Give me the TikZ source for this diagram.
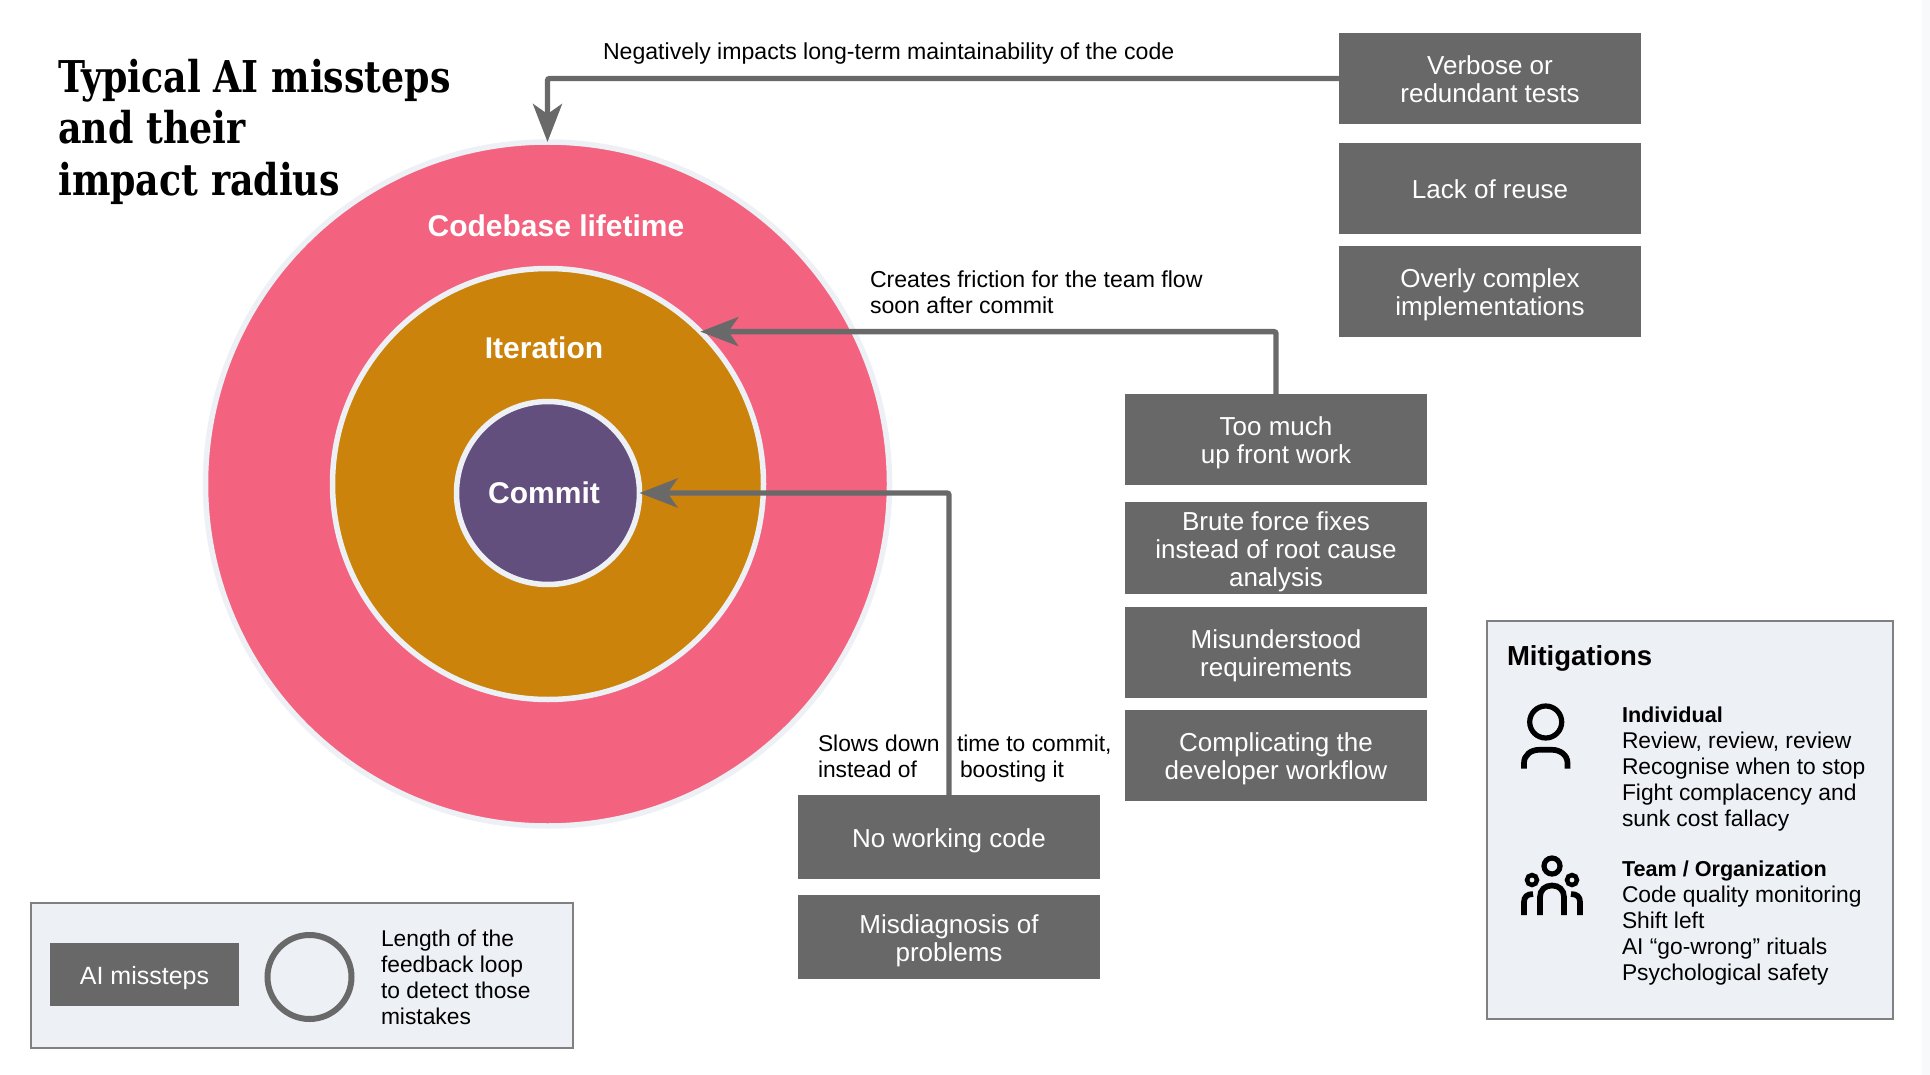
\documentclass[tikz,border=0pt]{standalone}
\usepackage{fontspec}
\setmainfont{Liberation Sans}
\newfontfamily\titlefont[FakeStretch=0.83]{DejaVu Serif}
\usetikzlibrary{arrows.meta}
\definecolor{ringc}{HTML}{EDF0F4}
\definecolor{pinkc}{HTML}{F3627E}
\definecolor{orangec}{HTML}{CB830B}
\definecolor{purplec}{HTML}{624F7E}
\definecolor{boxc}{HTML}{686868}
\definecolor{linec}{HTML}{696969}
\definecolor{framec}{HTML}{808080}
\newcommand{\st}{\rule{0pt}{20pt}}
\newcommand{\mtop}{\rule{0pt}{28pt}}
\newcommand{\mbot}{\rule[-8pt]{0pt}{8pt}}
\newcommand{\hd}[1]{{\fontsize{21.6}{26}\selectfont\bfseries #1}}
\tikzset{
  x=1pt,y=-1pt,
  misstep/.style={fill=boxc,text=white,align=center,inner sep=0pt,outer sep=0pt,minimum width=302pt,minimum height=#1,
    font=\fontsize{26}{28}\selectfont},
  misstep/.default=91pt,
  ringcircle/.style={circle,draw=ringc,line width=5.5pt,inner sep=0pt,outer sep=0pt},
  ringlabel/.style={text=white,inner sep=0pt,font=\fontsize{30}{34}\selectfont\bfseries},
  lbl/.style={anchor=north west,align=left,inner sep=0pt,outer sep=0pt,font=\fontsize{22.8}{26}\selectfont,text=black},
  panel/.style={fill=ringc,draw=framec,line width=2pt,inner sep=0pt,outer sep=0pt},
  conn/.style={draw=linec,line width=5.3pt,rounded corners=2pt,-{Stealth[length=38pt,width=29pt,inset=10pt]}},
  icon/.style={draw=black,line width=5.2pt},
  iconbody/.style={draw=black,line width=5.7pt}
}
\begin{document}
\begin{tikzpicture}
\useasboundingbox (0,0) rectangle (1930,1075);
\fill[ringc!40] (1922,0) rectangle (1930,1075);

% circles
\node[ringcircle,fill=pinkc,minimum size=684pt] (code) at (547.5,484) {};
\node[ringcircle,fill=orangec,minimum size=431pt] (iter) at (548,484) {};
\node[ringcircle,fill=purplec,minimum size=183pt] (commit) at (548,493) {};
\node[ringlabel] (lcode) at (556,226) {Codebase lifetime};
\node[ringlabel] (liter) at (544,348) {Iteration};
\node[ringlabel] (lcommit) at (544,493) {Commit};

% title
\node[anchor=north west,align=left,inner sep=0pt,font=\titlefont\fontsize{43.8}{51.5}\selectfont\bfseries] (title) at (58,52)
  {\rule{0pt}{40pt}Typical AI missteps\\and their\\impact radius};

% misstep boxes
\node[misstep] (verbose) at (1490,78.5) {\mtop Verbose or\\redundant tests\mbot};
\node[misstep] (reuse) at (1490,188.5) {\mtop Lack of reuse\mbot};
\node[misstep] (complex) at (1490,291.5) {\mtop Overly complex\\implementations\mbot};
\node[misstep] (upfront) at (1276,439.5) {\mtop Too much\\up front work\mbot};
\node[misstep] (brute) at (1276,548) {\mtop Brute force fixes\\instead of root cause\\analysis\mbot};
\node[misstep] (misreq) at (1276,652) {\mtop Misunderstood\\requirements\mbot};
\node[misstep] (workflow) at (1276,755.5) {\mtop Complicating the\\developer workflow\mbot};
\node[misstep=84pt] (nocode) at (949,837) {\mtop No working code\mbot};
\node[misstep=84pt] (misdiag) at (949,937) {\mtop Misdiagnosis of\\problems\mbot};

% connectors
\draw[conn] (verbose.west) -| (code.north);
\draw[conn] (upfront.north) |- (iter.45);
\draw[conn] (nocode.north) |- (commit.east);

% connector labels
\node[lbl,font=\fontsize{23.1}{26}\selectfont] (l1) at (603,39.5) {\st Negatively impacts long-term maintainability of the code};
\node[lbl,font=\fontsize{23.1}{26}\selectfont] (l2) at (870,267.5) {\st Creates friction for the team flow\\soon after commit};
\node[lbl] (l3a) at (818,731) {\st Slows down\\instead of};
\node[lbl] (l3b) at (957,731) {\st time to commit,\\\hspace*{3pt}boosting it};

% legend
\node[panel,minimum width=542pt,minimum height=145pt] (legend) at (302,975.5) {};
\node[misstep=63pt,minimum width=189pt,font=\fontsize{25}{28}\selectfont] (lbox) at (144.5,974.5) {\mtop AI missteps\mbot};
\node[circle,draw=linec,line width=6pt,inner sep=0pt,outer sep=0pt,minimum size=84pt] (lcircle) at (309.5,977) {};
\node[lbl] (ltext) at (381,926) {\st Length of the\\feedback loop\\to detect those\\mistakes};

% mitigations
\node[panel,minimum width=406pt,minimum height=398pt] (mit) at (1690,820) {};
\node[lbl,font=\fontsize{27.5}{32}\selectfont\bfseries] (mtitle) at (1507,645) {\st Mitigations};
\node[lbl] (mind) at (1622,702) {\st\hd{Individual}\\Review, review, review\\Recognise when to stop\\Fight complacency and\\sunk cost fallacy};
\node[lbl] (mteam) at (1622,856) {\st\hd{Team / Organization}\\Code quality monitoring\\Shift left\\AI “go-wrong” rituals\\Psychological safety};

% person icon
\draw[icon] (1545.7,722) circle[radius=16];
\draw[iconbody] (1524,768.5) -- (1524,763) .. controls (1524,755) and (1531,749.8) .. (1539,749.8) -- (1552,749.8) .. controls (1560,749.8) and (1567.5,755) .. (1567.5,763) -- (1567.5,768.5);

% team icon
\draw[icon] (1552,866) circle[radius=8];
\draw[icon,line width=4.5pt] (1532,880) circle[radius=5];
\draw[icon,line width=4.5pt] (1572,880) circle[radius=5];
\draw[iconbody] (1540,915) -- (1540,897) .. controls (1540,890) and (1545,885.5) .. (1552,885.5) .. controls (1559,885.5) and (1564,890) .. (1564,897) -- (1564,915);
\draw[iconbody] (1524,915) -- (1524,902) .. controls (1524,897) and (1527,894) .. (1533,894);
\draw[iconbody] (1580,915) -- (1580,902) .. controls (1580,897) and (1577,894) .. (1571,894);
\end{tikzpicture}
\end{document}
